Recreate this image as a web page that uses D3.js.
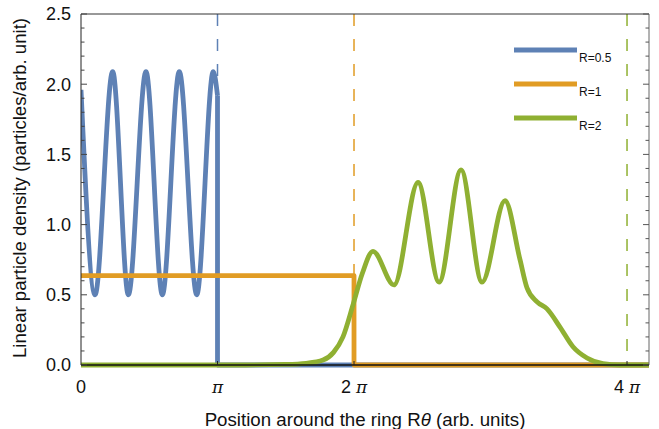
<!DOCTYPE html>
<html><head><meta charset="utf-8">
<script src="https://cdn.jsdelivr.net/npm/d3@7"></script>
<style>body{margin:0;background:#fff}svg{display:block}text{font-family:"Liberation Sans",Arial,sans-serif}</style>
</head><body><svg id="c" width="659" height="429"></svg>
<script>
// x values are in units of pi
const blueOscX = [0, 0.103, 0.232, 0.347, 0.476, 0.596, 0.720, 0.848, 0.969, 1.0];
const blueOscY = [1.96, 0.5, 2.09, 0.5, 2.09, 0.5, 2.09, 0.5, 2.09, 1.92];
const blueStepX = [1.0, 1.0, 4.161];
const blueStepY = [1.92, 0, 0];
const orangeX = [0, 2, 2, 4.161];
const orangeY = [0.637, 0.637, 0, 0];
const greenX = [0, 1.2, 1.5, 1.65, 1.773, 1.85, 1.919, 1.993, 2.06, 2.139, 2.293, 2.469, 2.623, 2.784, 2.938, 3.106, 3.216, 3.267, 3.341, 3.414, 3.509, 3.604, 3.707, 3.824, 3.95, 4.161];
const greenY = [0, 0, 0.004, 0.012, 0.035, 0.09, 0.2, 0.43, 0.65, 0.81, 0.57, 1.30, 0.59, 1.39, 0.59, 1.17, 0.75, 0.55, 0.45, 0.40, 0.27, 0.13, 0.05, 0.01, 0.0, 0];
const refLines = [1, 2, 4];
const seriesNames = ["R=0.5", "R=1", "R=2"];
const colors = ["#5E81B5", "#E19C24", "#8FB032"];
const xTicks = [0, 1, 2, 4];
const xTickLabels = ["0", "π", "2 π", "4 π"];
const yTicks = [0, 0.5, 1, 1.5, 2, 2.5];

const svg = d3.select("#c");
const L = 81, R = 649, T = 14, B = 365;
const x = d3.scaleLinear().domain([0, 4.161]).range([L, R]);
const y = d3.scaleLinear().domain([0, 2.5]).range([B, T]);

svg.append("defs").append("clipPath").attr("id","pc").append("rect")
  .attr("x", L).attr("y", T-3).attr("width", R-L).attr("height", B-T+6);

// dashed reference lines
svg.append("g").selectAll("line").data(refLines).join("line")
  .attr("x1", d=>x(d)).attr("x2", d=>x(d)).attr("y1", T).attr("y2", B)
  .attr("stroke", (d,i)=>colors[i]).attr("stroke-width", 1.5)
  .attr("stroke-dasharray", "12,13");

const g = svg.append("g").attr("clip-path","url(#pc)");
const zip = (xs, ys) => xs.map((v,i)=>[v, ys[i]]);
const smooth = d3.line().x(d=>x(d[0])).y(d=>y(d[1])).curve(d3.curveMonotoneX);
const lin = d3.line().x(d=>x(d[0])).y(d=>y(d[1]));
const sw = 4.8;
function path(gen, data, c){
  g.append("path").attr("d", gen(data)).attr("fill","none").attr("stroke", c)
   .attr("stroke-width", sw).attr("stroke-linejoin","round").attr("stroke-linecap","butt");
}
path(smooth, zip(blueOscX, blueOscY), colors[0]);
path(lin, zip(blueStepX, blueStepY), colors[0]);
path(lin, zip(orangeX, orangeY), colors[1]);
path(smooth, zip(greenX, greenY), colors[2]);

// frame
svg.append("line").attr("x1", L).attr("x2", R).attr("y1", T).attr("y2", T).attr("stroke", "#333").attr("stroke-width", 1);
svg.append("line").attr("x1", R).attr("x2", R).attr("y1", T).attr("y2", B).attr("stroke", "#666").attr("stroke-width", 1);
svg.append("line").attr("x1", L).attr("x2", L).attr("y1", T).attr("y2", B).attr("stroke", "#222").attr("stroke-width", 1);
svg.append("line").attr("x1", L).attr("x2", R).attr("y1", B).attr("y2", B).attr("stroke", "#111").attr("stroke-width", 1.5);

// y ticks
const minor = d3.range(0, 2.501, 0.1);
const ax = svg.append("g");
minor.forEach(v=>{
  const major = Math.abs(v*2 - Math.round(v*2)) < 1e-6;
  const len = major ? 6 : 3.5;
  ax.append("line").attr("x1", L).attr("x2", L+len).attr("y1", y(v)).attr("y2", y(v)).attr("stroke","#444").attr("stroke-width",1);
  ax.append("line").attr("x1", R).attr("x2", R-len).attr("y1", y(v)).attr("y2", y(v)).attr("stroke","#555").attr("stroke-width",1);
});
ax.selectAll("text.yt").data(yTicks).join("text").attr("class","yt")
  .attr("x", 71).attr("y", d=>y(d)).attr("dy","0.36em").attr("text-anchor","end")
  .attr("font-size", 18).attr("fill","#111").text(d=>d.toFixed(1));

// x ticks
xTicks.forEach((v,i)=>{
  if (v>0) ax.append("line").attr("x1", x(v)).attr("x2", x(v)).attr("y1", B).attr("y2", B-4).attr("stroke","#222").attr("stroke-width",1);
  const t = ax.append("text").attr("x", x(v)).attr("y", 393).attr("text-anchor","middle").attr("font-size",18).attr("fill","#111");
  const lab = xTickLabels[i];
  if (lab.includes("π")) {
    const pre = lab.replace("π","");
    if (pre) t.append("tspan").text(pre);
    t.append("tspan").attr("font-style","italic").attr("font-family","DejaVu Serif").attr("font-size",17).text("π");
  } else t.text(lab);
});

// axis titles
const xt = svg.append("text").attr("x", 365).attr("y", 426).attr("text-anchor","middle").attr("font-size",18.7).attr("fill","#111");
xt.append("tspan").text("Position around the ring R");
xt.append("tspan").attr("font-style","italic").text("θ");
xt.append("tspan").text(" (arb. units)");
svg.append("text").attr("transform","translate(26,188) rotate(-90)").attr("text-anchor","middle")
  .attr("font-size",18.6).attr("fill","#111").text("Linear particle density (particles/arb. unit)");

// legend
const lg = svg.append("g");
seriesNames.forEach((n,i)=>{
  const yy = 50 + i*34;
  lg.append("line").attr("x1",514).attr("x2",577).attr("y1",yy).attr("y2",yy).attr("stroke",colors[i]).attr("stroke-width",5);
  lg.append("text").attr("x",579).attr("y",yy+12).attr("font-size",12).attr("fill","#111").text(n);
});
</script></body></html>
